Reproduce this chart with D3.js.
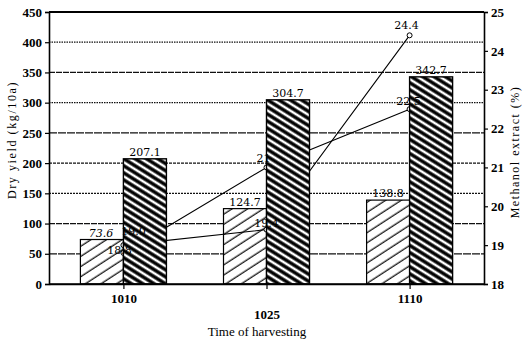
<!DOCTYPE html>
<html>
<head>
<meta charset="utf-8">
<script src="https://cdn.jsdelivr.net/npm/d3@7"></script>
<style>
  body { margin: 0; background: #fff; }
  svg { display: block; }
  text { font-family: "Liberation Serif", "DejaVu Serif", serif; fill: #000; }
</style>
</head>
<body>
<div id="draw_here"></div>
<script>
    // Data
    categories = ["1010", "1025", "1110"]
    yield_light = [73.6, 124.7, 138.8]
    yield_dark = [207.1, 304.7, 342.7]
    extract_a = [19.0, 19.4, 24.4]
    extract_b = [18.8, 21.0, 22.5]
    extract_a_labels = ["19.0", "19.4", "24.4"]
    extract_b_labels = ["18.8", "21", "22.5"]
    left_ticks = [0, 50, 100, 150, 200, 250, 300, 350, 400, 450]
    right_ticks = [18, 19, 20, 21, 22, 23, 24, 25]

    canvas = ({width: 526, height: 342})
    margin = ({top: 12, right: 42, bottom: 58, left: 49})

    x = d3.scalePoint()
        .domain(categories)
        .range([margin.left, canvas.width - margin.right])
        .padding(0.52)

    y_left = d3.scaleLinear()
        .domain([0, 450])
        .range([canvas.height - margin.bottom, margin.top])

    y_right = d3.scaleLinear()
        .domain([18, 25])
        .range([canvas.height - margin.bottom, margin.top])

    bar_w = 43

    var svg = d3.select("div#draw_here").append("svg")
        .attr("width", canvas.width)
        .attr("height", canvas.height)
        .attr("viewBox", [0, 0, canvas.width, canvas.height])

    // hatch patterns
    defs = svg.append("defs")
    light = defs.append("pattern")
        .attr("id", "hatch_light")
        .attr("patternUnits", "userSpaceOnUse")
        .attr("width", 8.5).attr("height", 8.5)
        .attr("patternTransform", "rotate(-33)")
    light.append("rect").attr("width", 8.5).attr("height", 8.5).attr("fill", "#fff")
    light.append("line")
        .attr("x1", 0).attr("x2", 8.5).attr("y1", 4).attr("y2", 4)
        .attr("stroke", "#000").attr("stroke-width", 1.2)

    dark = defs.append("pattern")
        .attr("id", "hatch_dark")
        .attr("patternUnits", "userSpaceOnUse")
        .attr("width", 6).attr("height", 6)
        .attr("patternTransform", "rotate(32)")
    dark.append("rect").attr("width", 6).attr("height", 6).attr("fill", "#fff")
    dark.append("line")
        .attr("x1", 0).attr("x2", 6).attr("y1", 3).attr("y2", 3)
        .attr("stroke", "#000").attr("stroke-width", 3.4)

    x0 = margin.left
    x1 = canvas.width - margin.right

    // grid lines
    grid_dash = {50: "8,1", 100: "6,1", 150: "2,1", 200: "3,1", 250: "8,1", 300: "1.5,1", 350: "6,1", 400: "1.5,1"}
    svg.append("g")
        .selectAll("line")
        .data(left_ticks.filter(d => d > 0 && d < 450))
        .join("line")
        .attr("x1", x0).attr("x2", x1)
        .attr("y1", d => y_left(d)).attr("y2", d => y_left(d))
        .attr("stroke", "#111")
        .attr("stroke-width", 1.2)
        .attr("stroke-dasharray", d => grid_dash[d])

    // top border
    svg.append("line")
        .attr("x1", x0).attr("x2", x1)
        .attr("y1", y_left(450)).attr("y2", y_left(450))
        .attr("stroke", "#000").attr("stroke-width", 1.8)

    // light bars
    svg.append("g")
        .selectAll("rect")
        .data(yield_light)
        .join("rect")
        .attr("x", (d, i) => x(categories[i]) - bar_w)
        .attr("y", d => y_left(d))
        .attr("width", bar_w)
        .attr("height", d => y_left(0) - y_left(d))
        .attr("fill", "url(#hatch_light)")
        .attr("stroke", "#000")
        .attr("stroke-width", 1.2)

    // methanol extract lines
    line_r = d3.line()
        .x((d, i) => x(categories[i]))
        .y(d => y_right(d))

    ;[extract_a, extract_b].forEach(function(series) {
        svg.append("path")
            .attr("fill", "none")
            .attr("stroke", "#000")
            .attr("stroke-width", 1.1)
            .attr("d", line_r(series))
        svg.append("g")
            .selectAll("circle")
            .data(series)
            .join("circle")
            .attr("cx", (d, i) => x(categories[i]))
            .attr("cy", d => y_right(d))
            .attr("r", 2.5)
            .attr("fill", "#fff")
            .attr("stroke", "#000")
            .attr("stroke-width", 1)
    })

    // dark bars
    svg.append("g")
        .selectAll("rect")
        .data(yield_dark)
        .join("rect")
        .attr("x", (d, i) => x(categories[i]))
        .attr("y", d => y_left(d))
        .attr("width", bar_w)
        .attr("height", d => y_left(0) - y_left(d))
        .attr("fill", "url(#hatch_dark)")
        .attr("stroke", "#000")
        .attr("stroke-width", 1.4)

    // bar value labels
    label_font = "DejaVu Serif"
    svg.append("g")
        .selectAll("text")
        .data(yield_light)
        .join("text")
        .attr("x", (d, i) => x(categories[i]) - bar_w / 2 + (i == 0 ? -1 : 0))
        .attr("y", d => y_left(d) - 3)
        .attr("text-anchor", "middle")
        .style("font-family", label_font)
        .style("font-size", "11px")
        .style("font-style", (d, i) => i == 0 ? "italic" : "normal")
        .text(d => d.toFixed(1))

    svg.append("g")
        .selectAll("text")
        .data(yield_dark)
        .join("text")
        .attr("x", (d, i) => x(categories[i]) + bar_w / 2)
        .attr("y", d => y_left(d) - 3)
        .attr("text-anchor", "middle")
        .style("font-family", label_font)
        .style("font-size", "11px")
        .text(d => d.toFixed(1))

    // line point labels
    line_label_dx = [[10, 0, -3], [-4, -3, -1]]
    line_label_dy = [[-10, -3, -6], [1, -5, -4]]
    ;[[extract_a, extract_a_labels], [extract_b, extract_b_labels]].forEach(function(pair, s) {
        svg.append("g")
            .selectAll("text")
            .data(pair[0])
            .join("text")
            .attr("x", (d, i) => x(categories[i]) + line_label_dx[s][i])
            .attr("y", d => y_right(d))
            .attr("dy", (d, i) => line_label_dy[s][i])
            .attr("text-anchor", "middle")
            .style("font-family", label_font)
            .style("font-size", "11px")
            .text((d, i) => pair[1][i])
    })

    // axes
    yAxisLeft = g => g
        .attr("transform", `translate(${x0},0)`)
        .call(d3.axisLeft(y_left).tickValues(left_ticks).tickSize(4).tickPadding(3).tickFormat(d3.format("d")))

    yAxisRight = g => g
        .attr("transform", `translate(${x1},0)`)
        .call(d3.axisRight(y_right).tickValues(right_ticks).tickSize(4).tickPadding(3).tickFormat(d3.format("d")))

    xAxis = g => g
        .attr("transform", `translate(0,${y_left(0)})`)
        .call(d3.axisBottom(x).tickSize(5).tickPadding(5).tickSizeOuter(0))

    ;[svg.append("g").call(yAxisLeft), svg.append("g").call(yAxisRight), svg.append("g").call(xAxis)].forEach(function(g) {
        g.select(".domain").attr("stroke", "#000").attr("stroke-width", 1.6)
        g.selectAll(".tick line").attr("stroke", "#000").attr("stroke-width", 1.2)
        g.selectAll(".tick text")
            .style("font-family", "Liberation Serif")
            .style("font-size", "13px")
            .style("font-weight", "bold")
    })
    // bottom axis spans the whole plot
    svg.append("line")
        .attr("x1", x0).attr("x2", x1)
        .attr("y1", y_left(0)).attr("y2", y_left(0))
        .attr("stroke", "#000").attr("stroke-width", 1.6)

    // the middle category label sits lower in the original
    svg.selectAll("g .tick text")
        .filter(d => d === "1025")
        .attr("dy", "1.9em")

    // titles
    svg.append("text")
        .attr("transform", `translate(16,140) rotate(-90)`)
        .attr("text-anchor", "middle")
        .style("font-size", "12px")
        .style("letter-spacing", "1.6px")
        .text("Dry yield (kg/10a)")

    svg.append("text")
        .attr("transform", `translate(519,152) rotate(-90)`)
        .attr("text-anchor", "middle")
        .style("font-size", "12px")
        .style("letter-spacing", "1.5px")
        .text("Methanol extract (%)")

    svg.append("text")
        .attr("x", 257)
        .attr("y", 336)
        .attr("text-anchor", "middle")
        .style("font-size", "13px")
        .text("Time of harvesting")
</script>
</body>
</html>
